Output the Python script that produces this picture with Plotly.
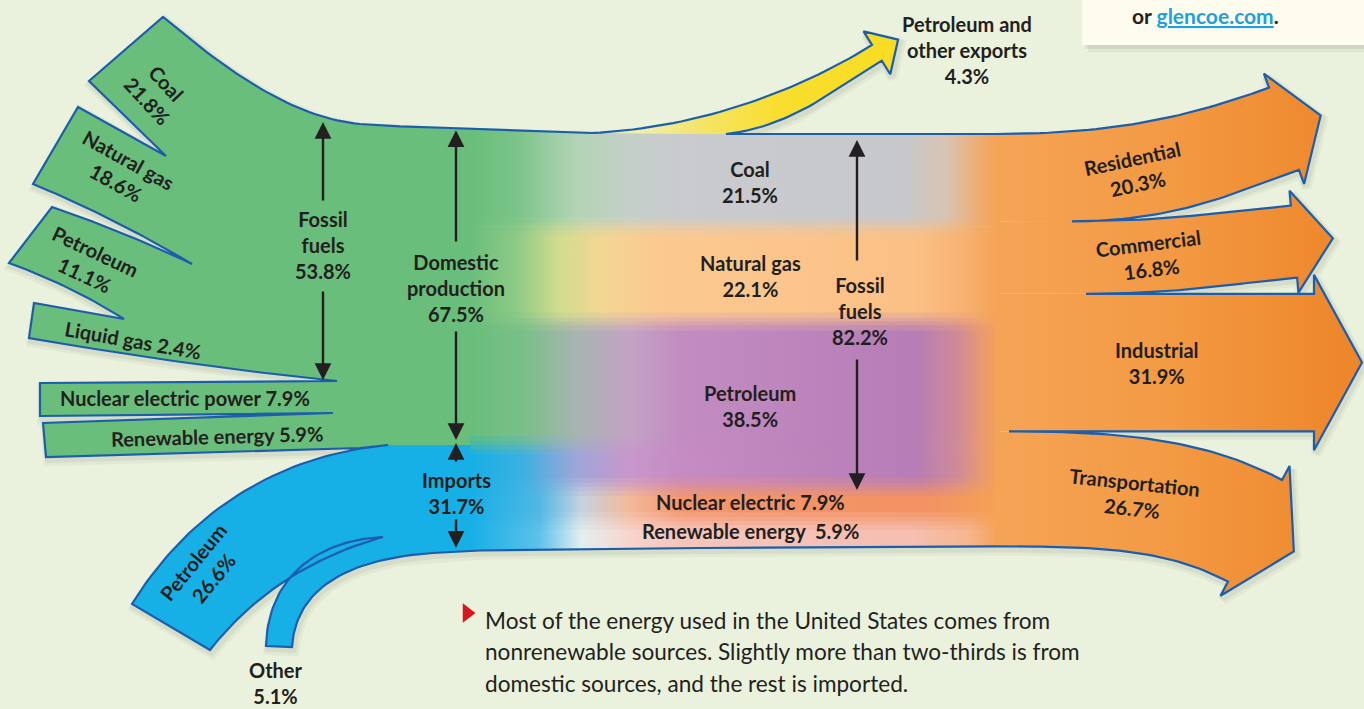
import numpy as np
import plotly.graph_objects as go

# ---------------- data ----------------
source_labels = ["Coal", "Natural gas", "Petroleum", "Liquid gas",
                 "Nuclear electric power", "Renewable energy"]
source_values = [21.8, 18.6, 11.1, 2.4, 7.9, 5.9]
import_labels = ["Petroleum", "Other"]
import_values = [26.6, 5.1]
fossil_source_value = 53.8
domestic_value = 67.5
imports_value = 31.7
export_label = "Petroleum and<br>other exports"
export_value = 4.3
use_labels = ["Coal", "Natural gas", "Petroleum", "Nuclear electric", "Renewable energy"]
use_values = [21.5, 22.1, 38.5, 7.9, 5.9]
fossil_use_value = 82.2
sector_labels = ["Residential", "Commercial", "Industrial", "Transportation"]
sector_values = [20.3, 16.8, 31.9, 26.7]
caption_lines = ["Most of the energy used in the United States comes from",
                 "nonrenewable sources. Slightly more than two-thirds is from",
                 "domestic sources, and the rest is imported."]

# ---------------- style / layout geometry ----------------
W, H = 1364, 709
BG = "#eaf2dd"
GREEN = "#69be7b"
BLUE = "#16afe6"
EDGE = "#1c5eab"
INK = "#231f20"
ORANGE0 = "#f5a254"
FONT = "Lato, Roboto, sans-serif"
LSIZE = 20
K = 4.3            # pixels per percent
TOP = 134.0        # top of the consumption stack
SPLIT_Y = 445.0    # domestic / imports boundary on the left
X_MID0, X_MID1 = 470, 1000
X_ARR0 = 995


def cubic(p0, p1, p2, p3, n=40):
    t = np.linspace(0, 1, n)[:, None]
    p0, p1, p2, p3 = (np.asarray(p, float) for p in (p0, p1, p2, p3))
    pts = (1 - t) ** 3 * p0 + 3 * (1 - t) ** 2 * t * p1 + 3 * (1 - t) * t ** 2 * p2 + t ** 3 * p3
    return [tuple(p) for p in pts]


def quad(p0, c, p1, n=30):
    t = np.linspace(0, 1, n)[:, None]
    p0, c, p1 = (np.asarray(p, float) for p in (p0, c, p1))
    pts = (1 - t) ** 2 * p0 + 2 * (1 - t) * t * c + t ** 2 * p1
    return [tuple(p) for p in pts]


def hex2rgb(h):
    h = h.lstrip("#")
    return np.array([int(h[i:i + 2], 16) for i in (0, 2, 4)], float)


def scale_at(scale, t):
    pos = [s[0] for s in scale]
    cols = np.array([hex2rgb(s[1]) for s in scale])
    return np.array([np.interp(t, pos, cols[:, k]) for k in range(3)])


def mix_scale(s1, s2, w):
    out = []
    for t in np.linspace(0, 1, 54):
        c = (1 - w) * scale_at(s1, t) + w * scale_at(s2, t)
        out.append([float(t), "rgb(%d,%d,%d)" % tuple(np.round(c))])
    return out


fig = go.Figure()


def poly(pts, fill=None, grad=None):
    xs, ys = zip(*pts)
    kw = dict(x=list(xs) + [xs[0]], y=list(ys) + [ys[0]], mode="lines", fill="toself",
              line=dict(width=0, color="rgba(0,0,0,0)"), hoverinfo="skip", showlegend=False)
    if grad is not None:
        kw["fillgradient"] = grad
    else:
        kw["fillcolor"] = fill
    fig.add_trace(go.Scatter(**kw))


# trunk edges
TRUNK_TOP = [(323, 119), (360, 124), (400, 126.3), (450, 128), (520, 130.6), (592, 133), (726, TOP), (1000, TOP)]
bounds = TOP + K * np.concatenate([[0], np.cumsum(use_values)])
stack_bottom = bounds[-1]
TRUNK_BOT = [(433, 553), (480, 550.5), (700, 548), (1000, stack_bottom)]


def y_top(x):
    return np.interp(x, [p[0] for p in TRUNK_TOP], [p[1] for p in TRUNK_TOP])


def y_bot(x):
    return np.interp(x, [p[0] for p in TRUNK_BOT], [p[1] for p in TRUNK_BOT])


# ---- left source tabs (geometry) ----
A = (163, 17)
coal_top = cubic(A, (215, 60), (285, 117), (360, 124))
trunk_top_left = [(x, float(y_top(x))) for x in (400, 450, 480)]
liq_bot = quad((337, 381), (190, 366), (29, 338))
pet_bot = quad((124, 319), (70, 285), (9, 263))
pet_top = quad((52, 207), (125, 232), (192, 264))
ng_bot = quad((192, 264), (115, 218), (33, 184))

# ---- imports (blue) geometry ----
imp_top = cubic((388, 445), (280, 455), (190, 510), (132, 604))
imp_inner = cubic((210, 650), (245, 605), (300, 560), (383, 537))
oth_outer = cubic((383, 537), (320, 540), (268, 575), (266, 646))
oth_inner = cubic((292, 647), (295, 600), (330, 560), (433, 553))

# ---- export arrow geometry ----
ew = export_value * K
e_end = np.array([872.0, 45.0])
e_p2 = np.array([800.0, 90.0])
ed = (e_end - e_p2) / np.linalg.norm(e_end - e_p2)
en = np.array([-ed[1], ed[0]])
exp_top = cubic((592, 133), (700, 128), e_p2, e_end)
eb3 = e_end + ew * en
exp_bot = cubic((726, TOP), (790, 127), eb3 - 55 * ed, eb3)
e_mid = e_end + ew / 2 * en
exp_head = [tuple(e_end - 16 * en), tuple(e_mid + 25 * ed), tuple(eb3 + 16 * en)]
exp_outline = exp_top + exp_head + exp_bot[::-1]

# ---- sector arrow geometry ----
ARROW_GEOM = [
    dict(split_top=None, split_bot=1072, hx=1284, dy=-49, ang=-20, ext=15, tip=39, lx=1135, la=-12),
    dict(split_top=1072, split_bot=1086, hx=1294, dy=-16, ang=-5, ext=15, tip=39, lx=1150, la=-7),
    dict(split_top=1086, split_bot=1009, hx=1314, dy=0, ang=0, ext=19, tip=48, lx=1157, la=0),
    dict(split_top=1009, split_bot=None, hx=1255, dy=42, ang=28, ext=16, tip=44, lx=1133, la=6),
]
ks = (stack_bottom - TOP) / sum(sector_values)
sb = TOP + ks * np.concatenate([[0], np.cumsum(sector_values)])
arrow_outlines, arrow_fills, sector_label_pos = [], [], []
for i, g in enumerate(ARROW_GEOM):
    yt, yb = sb[i], sb[i + 1]
    w = yb - yt
    c = np.array([g["hx"], (yt + yb) / 2 + g["dy"]])
    th = np.radians(g["ang"])
    d = np.array([np.cos(th), np.sin(th)])
    n = np.array([-np.sin(th), np.cos(th)])
    Ht, Hb = c - w / 2 * n, c + w / 2 * n
    xt = g["split_top"] or X_ARR0
    xb = g["split_bot"] or X_ARR0
    top = cubic((xt, yt), (xt + 0.45 * (Ht[0] - xt), yt), Ht - 0.3 * (Ht[0] - xt) * d, Ht)
    bot = cubic((xb, yb), (xb + 0.45 * (Hb[0] - xb), yb), Hb - 0.3 * (Hb[0] - xb) * d, Hb)
    head = [tuple(Ht - g["ext"] * n), tuple(c + g["tip"] * d), tuple(Hb + g["ext"] * n)]
    outline = top + head + bot[::-1]
    arrow_outlines.append(outline)
    arrow_fills.append([(X_ARR0, yt)] + outline + [(X_ARR0, yb)])
    ty = np.interp(g["lx"], [p[0] for p in top], [p[1] for p in top])
    by = np.interp(g["lx"], [p[0] for p in bot], [p[1] for p in bot])
    sector_label_pos.append((g["lx"], (ty + by) / 2, g["la"]))

# ---- outline chain (one closed path) ----
chain = [(166, 156), (89, 81)] + coal_top + [(x, float(y_top(x))) for x in (400, 450, 520, 592)]
chain += exp_outline + [(X_ARR0, TOP)]
for ol in arrow_outlines:
    chain += ol
chain += [(X_ARR0, float(y_bot(X_ARR0)))] + TRUNK_BOT[::-1][1:]
chain += oth_inner[::-1] + oth_outer[::-1] + imp_inner[::-1] + imp_top[::-1]
chain += [(360, 448), (46, 457), (43, 423), (333, 413), (40, 416), (40, 383)] + liq_bot
chain += [(34, 303), (124, 319)] + pet_bot + [(52, 207)] + pet_top + ng_bot + [(78, 107), (166, 156)]
cx, cy = zip(*chain)

# soft drop shadow
for off, wid, alpha in [(4, 10, 0.05), (3, 6, 0.07)]:
    fig.add_trace(go.Scatter(x=[v + off * 0.6 for v in cx], y=[v + off for v in cy], mode="lines",
                             line=dict(color=f"rgba(60,70,50,{alpha})", width=wid),
                             hoverinfo="skip", showlegend=False))

# ---- fills ----
green_pts = ([A] + coal_top + trunk_top_left + [(480, SPLIT_Y), (388, 445), (360, 448), (46, 457), (43, 423),
             (333, 413), (40, 416), (40, 383)] + liq_bot + [(34, 303), (124, 319)] + pet_bot + [(52, 207)]
             + pet_top + ng_bot + [(78, 107), (166, 156), (89, 81)])
poly(green_pts, fill=GREEN)
blue_pts = (imp_top + [(210, 650)] + imp_inner + oth_outer + [(292, 647)] + oth_inner
            + [(480, float(y_bot(480))), (480, SPLIT_Y)])
poly(blue_pts, fill=BLUE)

# ---- middle consumption stripes ----
SCALES = {
    ("Coal", "g"): [[0, GREEN], [0.09, "#7cc48a"], [0.2, "#b3d3b5"], [0.3, "#c4d0c9"], [0.4, "#c9cbcf"],
                    [0.82, "#c7c8cc"], [0.9, "#d8c4b2"], [0.96, "#eead72"], [1, ORANGE0]],
    ("Natural gas", "g"): [[0, GREEN], [0.09, "#8fca86"], [0.17, "#d3dd8f"], [0.25, "#f3d693"],
                           [0.35, "#fbca90"], [0.84, "#fbc086"], [0.93, "#f8b272"], [1, ORANGE0]],
    ("Petroleum", "g"): [[0, GREEN], [0.1, "#79bf88"], [0.2, "#a7b4b1"], [0.3, "#c3a3c5"], [0.4, "#c28cc1"],
                         [0.84, "#b67db6"], [0.92, "#cf8a98"], [0.97, "#eb9b6c"], [1, ORANGE0]],
    ("Petroleum", "b"): [[0, BLUE], [0.1, "#3cb0e2"], [0.2, "#9ea6d9"], [0.3, "#c897cb"], [0.4, "#c58bc2"],
                         [0.84, "#b67db6"], [0.92, "#cf8a98"], [0.97, "#eb9b6c"], [1, ORANGE0]],
    ("Nuclear electric", "b"): [[0, BLUE], [0.13, "#4fb7e4"], [0.21, "#c5d3df"], [0.3, "#f3b99a"],
                                [0.4, "#f2966d"], [0.86, "#f29264"], [1, ORANGE0]],
    ("Renewable energy", "b"): [[0, BLUE], [0.13, "#5cc1ea"], [0.21, "#e4eef0"], [0.3, "#f8d4cc"],
                                [0.4, "#f6c5ba"], [0.84, "#f5bfb1"], [0.94, "#f5b690"], [1, ORANGE0]],
}
xs = np.linspace(X_MID0, X_MID1, 80)
pieces = []
for i, lab_ in enumerate(use_labels):
    y0, y1 = bounds[i], bounds[i + 1]
    if y0 < SPLIT_Y < y1:
        parts = [(y0, SPLIT_Y, "g"), (SPLIT_Y, y1, "b")]
    else:
        parts = [(y0, y1, "g" if y1 <= SPLIT_Y else "b")]
    for (a, b, side) in parts:
        pieces.append([a, b, SCALES[(lab_, side)], i == 0 and a == y0, i == len(use_labels) - 1 and b == y1])


def stripe(a, b, scale, first=False, last=False):
    top = y_top(xs) if first else np.full_like(xs, a)
    bot = y_bot(xs) if last else np.full_like(xs, b)
    pts = list(zip(xs, top)) + list(zip(xs[::-1], bot[::-1]))
    poly(pts, grad=dict(type="horizontal", colorscale=scale, start=X_MID0, stop=X_MID1))


for a, b, sc, f, l in pieces:
    stripe(a, b, sc, f, l)
BLUR = [(-9, -4, 0.2), (-4, 0, 0.4), (0, 4, 0.6), (4, 9, 0.8)]
for j in range(len(pieces) - 1):
    yb = pieces[j][1]
    half = min(pieces[j][1] - pieces[j][0], pieces[j + 1][1] - pieces[j + 1][0]) / 2.5
    for d0, d1, wmix in BLUR:
        d0c, d1c = max(d0, -half), min(d1, half)
        if d1c <= d0c:
            continue
        stripe(yb + d0c, yb + d1c, mix_scale(pieces[j][2], pieces[j + 1][2], wmix))

# ---- export arrow fill ----
poly(exp_outline + [(660, float(y_top(660)))],
     grad=dict(type="horizontal", start=592, stop=900,
               colorscale=[[0, "#d9e7a8"], [0.15, "#eef0b0"], [0.35, "#f5e46a"], [0.6, "#f8df2e"],
                           [1, "#f9dc22"]]))

# ---- sector arrow fills ----
for pts in arrow_fills:
    poly(pts, grad=dict(type="horizontal", start=X_ARR0, stop=1340,
                        colorscale=[[0, "#f5a456"], [0.5, "#f39a44"], [1, "#ee872b"]]))

# ---- outline ----
fig.add_trace(go.Scatter(x=cx, y=cy, mode="lines", line=dict(color=EDGE, width=2.2),
                         hoverinfo="skip", showlegend=False))

# ---- caption bullet ----
fig.add_trace(go.Scatter(x=[467], y=[613], mode="markers",
                         marker=dict(symbol="triangle-right", size=17, color="#d9161e"),
                         hoverinfo="skip", showlegend=False))

# ---------------- annotations ----------------
ann = []


def lab(x, y, text, size=LSIZE, angle=0, bold=True, color=INK, xanchor="center"):
    ann.append(dict(x=x, y=y, text=text, showarrow=False, textangle=angle, xanchor=xanchor,
                    yanchor="middle", align="center" if xanchor == "center" else "left",
                    font=dict(family=FONT, size=size, color=color, weight="bold" if bold else "normal")))


def varrow(x, tail, tip):
    ann.append(dict(x=x, y=tip, ax=x, ay=tail, xref="x", yref="y", axref="x", ayref="y", text="",
                    showarrow=True, arrowhead=2, arrowsize=1.4, arrowwidth=2.4, arrowcolor=INK,
                    standoff=0, startstandoff=0))


pct = lambda v: f"{v:.1f}%"
SRC_LABEL_POS = [(157, 92, 47, True), (122, 171, 29, True), (90, 263, 25, True),
                 (133, 340, 10, False), (185, 398, 0, False), (217, 436, -1.5, False)]
for (lx, ly, la, two), name, v in zip(SRC_LABEL_POS, source_labels, source_values):
    lab(lx, ly, f"{name}<br>{pct(v)}" if two else f"{name} {pct(v)}", angle=la)
lab(203, 570, f"{import_labels[0]}<br>{pct(import_values[0])}", angle=-51)
lab(276, 683, f"{import_labels[1]}<br>{pct(import_values[1])}")

ft, fb = float(y_top(323)) + 3, 380
lab(323, (ft + fb) / 2 - 6, f"Fossil<br>fuels<br>{pct(fossil_source_value)}")
varrow(323, 202, ft)
varrow(323, 290, fb)
dt = float(y_top(456)) + 2
lab(456, (dt + SPLIT_Y) / 2, f"Domestic<br>production<br>{pct(domestic_value)}")
varrow(456, 243, dt)
varrow(456, 330, SPLIT_Y - 5)
ib = float(y_bot(456))
lab(456, (SPLIT_Y + ib) / 2 - 5, f"Imports<br>{pct(imports_value)}")
varrow(456, 463, SPLIT_Y - 2)
varrow(456, 518, ib - 4)

for i, (name, v) in enumerate(zip(use_labels, use_values)):
    cyv = (bounds[i] + bounds[i + 1]) / 2
    if i < 3:
        lab(750, cyv + 2, f"{name}<br>{pct(v)}")
    else:
        sep = " " if i == 3 else "\u00a0 "
        lab(750, cyv - (2 if i == 3 else 3), f"{name}{sep}{pct(v)}")
lab(860, (bounds[0] + bounds[3]) / 2, f"Fossil<br>fuels<br>{pct(fossil_use_value)}")
varrow(857, 262, bounds[0] + 6)
varrow(857, 358, bounds[3] + 3)

lab(967, 50, f"{export_label}<br>{pct(export_value)}")

for (lx, ly, la), name, v in zip(sector_label_pos, sector_labels, sector_values):
    lab(lx, ly, f"{name}<br>{pct(v)}", angle=la)

for j, line in enumerate(caption_lines):
    lab(483, 620 + 31.5 * j, line, size=22.6, bold=False, xanchor="left")

lab(1205, 15, "or <span style='color:#1ba1de'><u>glencoe.com</u></span>.", size=LSIZE + 1)

shapes = [
    dict(type="rect", x0=1088, x1=1364, y0=0, y1=52, line=dict(width=0), fillcolor="rgba(90,90,60,0.08)"),
    dict(type="rect", x0=1085, x1=1364, y0=0, y1=49, line=dict(width=0), fillcolor="rgba(90,90,60,0.10)"),
    dict(type="rect", x0=1082, x1=1364, y0=0, y1=45, line=dict(width=0), fillcolor="#fdfcef"),
]

fig.update_layout(
    width=W, height=H, margin=dict(l=0, r=0, t=0, b=0),
    paper_bgcolor=BG, plot_bgcolor=BG, showlegend=False,
    xaxis=dict(range=[0, W], visible=False, fixedrange=True),
    yaxis=dict(range=[H, 0], visible=False, fixedrange=True),
    annotations=ann, shapes=shapes,
)

fig.write_html("out.html", config={"displayModeBar": False},
               post_script="document.body.style.margin='0';document.body.style.overflow='hidden';")
